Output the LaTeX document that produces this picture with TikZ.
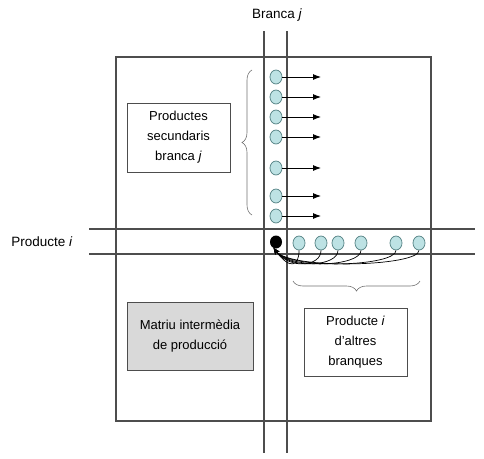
\documentclass[tikz,border=0pt]{standalone}
\usepackage{fontspec}
\setmainfont{Liberation Sans}
\usetikzlibrary{arrows.meta}
\usetikzlibrary{shapes.geometric}
\usetikzlibrary{decorations.pathreplacing}

\definecolor{linegray}{HTML}{4D4D4D}
\definecolor{dotfill}{HTML}{BDE2E4}
\definecolor{dotline}{HTML}{5E8A8C}

\tikzset{
	grid line/.style={draw=linegray, line width=1.1pt},
	textbox/.style={draw=linegray, line width=0.9pt, align=center, inner sep=0pt, font=\fontsize{13}{20}\selectfont},
	prod dot/.style={ellipse, draw=dotline, fill=dotfill, line width=0.8pt, minimum width=12pt, minimum height=14pt, inner sep=0pt},
	out arrow/.style={-{Latex[length=8pt,width=6pt]}, line width=0.9pt},
	back arrow/.style={-{Stealth[length=6pt,width=5pt]}, line width=0.7pt},
	bracket/.style={decorate, decoration={brace, amplitude=10pt}, draw=linegray!80, line width=0.6pt},
}

\begin{document}
\begin{tikzpicture}[x=1pt, y=-1pt]
	\useasboundingbox (0,0) rectangle (484,458);

	% outer table
	\draw[grid line] (116,57) rectangle (431,421);

	% column of branch j, row of product i
	\coordinate (coltopL) at (264,31); \coordinate (colbotL) at (264,453);
	\coordinate (coltopR) at (287,31); \coordinate (colbotR) at (287,453);
	\coordinate (rowlftT) at (89,229); \coordinate (rowrgtT) at (475,229);
	\coordinate (rowlftB) at (89,254); \coordinate (rowrgtB) at (475,254);
	\draw[grid line] (coltopL) -- (colbotL);
	\draw[grid line] (coltopR) -- (colbotR);
	\draw[grid line] (rowlftT) -- (rowrgtT);
	\draw[grid line] (rowlftB) -- (rowrgtB);

	% labels of column and row
	\node[font=\fontsize{13.5}{16}\selectfont] (branca) at (277,15) {Branca \textit{j}};
	\node[font=\fontsize{13.5}{16}\selectfont] (producte) at (42,242) {Producte \textit{i}};

	% secondary products of branch j
	\foreach \y [count=\i] in {77,97,117,137,168,196,216} {
		\node[prod dot] (v\i) at (276,\y) {};
		\coordinate (ve\i) at (321,\y);
		\draw[out arrow] (v\i) -- (ve\i);
	}

	% product i made by other branches
	\node[ellipse, fill=black, minimum width=12pt, minimum height=13pt, inner sep=0pt] (blk) at (276,242) {};
	\foreach \x [count=\i] in {299,321,338,361,396,419} {
		\node[prod dot] (h\i) at (\x,243) {};
		\draw[back arrow] (h\i.south) .. controls +(0,16) and (290,270) .. (blk.250);
	}

	% braces
	\coordinate (brA) at (252,215); \coordinate (brB) at (252,70);
	\draw[bracket] (brA) -- (brB);
	\coordinate (brC) at (420,281); \coordinate (brD) at (293,281);
	\draw[bracket] (brC) -- (brD);

	% text boxes
	\node[textbox, minimum width=103pt, minimum height=69pt] (secund) at (178.5,137.5) {Productes\\secundaris\\branca \textit{j}};
	\node[textbox, fill=black!15, minimum width=126pt, minimum height=68pt] (matriu) at (190,336) {Matriu intermèdia\\de producció};
	\node[textbox, minimum width=103pt, minimum height=68pt] (altres) at (355.5,342) {Producte \textit{i}\\d’altres\\branques};

\end{tikzpicture}
\end{document}
